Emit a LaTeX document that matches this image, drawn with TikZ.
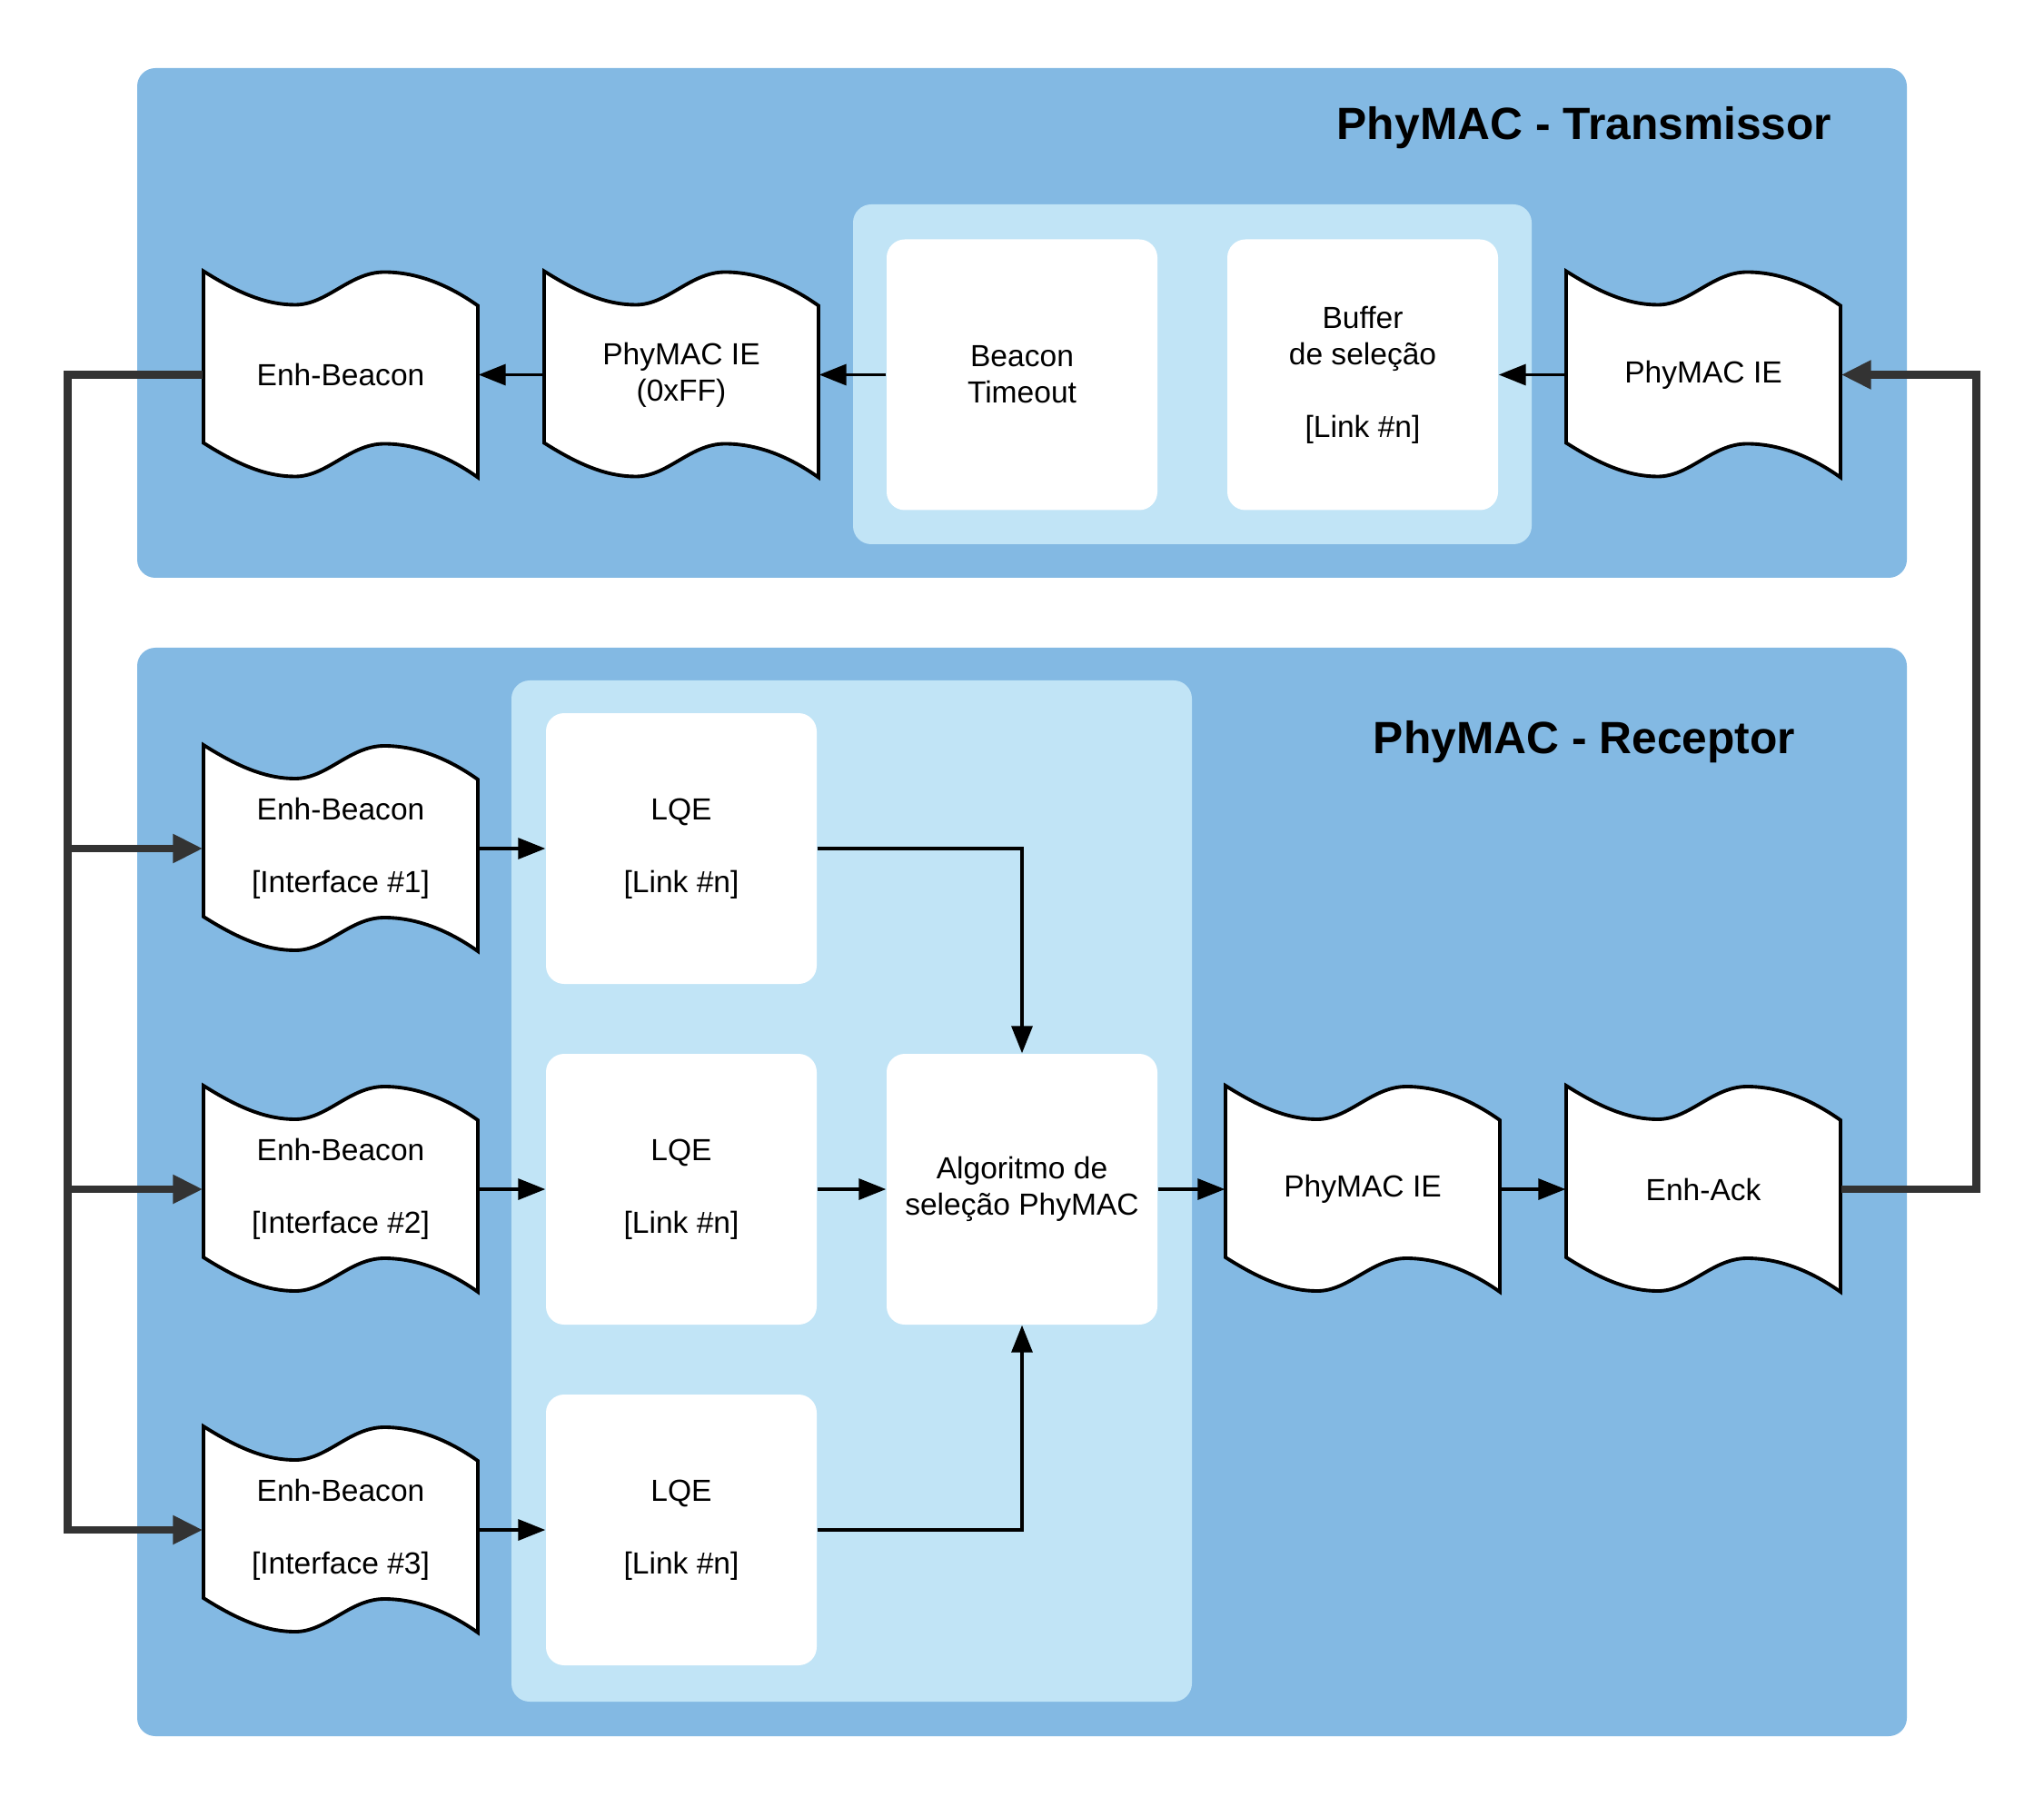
\documentclass[tikz,border=0pt]{standalone}
\usepackage{fontspec}
\setmainfont{Liberation Sans}
\usetikzlibrary{arrows.meta}

\definecolor{darkblue}{HTML}{83B9E3}
\definecolor{lightblue}{HTML}{C1E4F6}
\definecolor{busgray}{HTML}{333333}

\newcommand{\tapenode}[3]{%
  \pic at #2 {tapeshape};
  \node[tapebox] (#1) at #2 {#3};}

\begin{document}
\begin{tikzpicture}[
  font=\fontsize{9.55}{11.4}\selectfont,
  panel/.style={fill=darkblue, rounded corners=0.2cm},
  group/.style={fill=lightblue, rounded corners=0.2cm},
  block/.style={fill=white, rounded corners=0.2cm, minimum width=2.98cm, minimum height=2.98cm, inner sep=0pt, align=center},
  tapebox/.style={minimum width=3.02cm, minimum height=2.27cm, inner sep=0pt, align=center},
  tapeshape/.pic={
    \filldraw[fill=white, draw=black, line width=1.1pt, line join=miter]
      (-1.51,1.14) .. controls (-1.10,0.88) and (-0.80,0.77) .. (-0.50,0.77)
      .. controls (-0.15,0.77) and (0.10,1.13) .. (0.48,1.13)
      .. controls (0.85,1.13) and (1.20,0.98) .. (1.51,0.76)
      -- (1.51,-1.13)
      .. controls (1.20,-0.91) and (0.85,-0.76) .. (0.48,-0.76)
      .. controls (0.10,-0.76) and (-0.15,-1.12) .. (-0.50,-1.12)
      .. controls (-0.80,-1.12) and (-1.10,-1.01) .. (-1.51,-0.75) -- cycle;},
  flow/.style={line width=0.95pt, -{Triangle[length=3mm,width=2.3mm]}},
  bus/.style={draw=busgray, line width=2.5pt, -{Triangle[length=3.3mm,width=3mm]}},
  title/.style={font=\bfseries\fontsize{14.15}{16}\selectfont, anchor=base}
]
\useasboundingbox (0,0) rectangle (22.5,19.88);

% transmissor
\fill[panel] (1.51,19.13) rectangle (20.99,13.52);
\fill[group] (9.39,17.63) rectangle (16.86,13.89);
\node[title] (txtitle) at (17.44,18.34) {PhyMAC - Transmissor};

\tapenode{txbeacon}{(3.75,15.755)}{Enh-Beacon}
\tapenode{txie}{(7.5,15.755)}{PhyMAC IE\\(0xFF)}
\node[block] (timeout) at (11.25,15.755) {Beacon\\Timeout};
\node[block] (buffer) at (15,15.755) {Buffer\\de seleção\\[11.4pt]{[Link \#n]}};
\tapenode{txin}{(18.75,15.755)}{PhyMAC IE}

\draw[flow] (txie.west) -- (txbeacon.east);
\draw[flow] (timeout.west) -- (txie.east);
\draw[flow] (txin.west) -- (buffer.east);

% receptor
\fill[panel] (1.51,12.75) rectangle (20.99,0.77);
\fill[group] (5.63,12.39) rectangle (13.12,1.15);
\node[title] (rxtitle) at (17.44,11.59) {PhyMAC - Receptor};

\tapenode{rxb1}{(3.75,10.54)}{Enh-Beacon\\[11.4pt]{[Interface \#1]}}
\tapenode{rxb2}{(3.75,6.79)}{Enh-Beacon\\[11.4pt]{[Interface \#2]}}
\tapenode{rxb3}{(3.75,3.04)}{Enh-Beacon\\[11.4pt]{[Interface \#3]}}

\node[block] (lqe1) at (7.5,10.54) {LQE\\[11.4pt]{[Link \#n]}};
\node[block] (lqe2) at (7.5,6.79) {LQE\\[11.4pt]{[Link \#n]}};
\node[block] (lqe3) at (7.5,3.04) {LQE\\[11.4pt]{[Link \#n]}};
\node[block] (algo) at (11.25,6.79) {Algoritmo de\\seleção PhyMAC};

\tapenode{rxie}{(15,6.79)}{PhyMAC IE}
\tapenode{rxack}{(18.75,6.79)}{Enh-Ack}

\draw[flow] (rxb1.east) -- (lqe1.west);
\draw[flow] (rxb2.east) -- (lqe2.west);
\draw[flow] (rxb3.east) -- (lqe3.west);
\draw[flow] (lqe1.east) -| (algo.north);
\draw[flow] (lqe2.east) -- (algo.west);
\draw[flow] (lqe3.east) -| (algo.south);
\draw[flow] (algo.east) -- (rxie.west);
\draw[flow] (rxie.east) -- (rxack.west);

% links between the two
\draw[bus] (txbeacon.west) -- ++(-1.485,0) |- (rxb1.west);
\draw[bus] (txbeacon.west) -- ++(-1.485,0) |- (rxb2.west);
\draw[bus] (txbeacon.west) -- ++(-1.485,0) |- (rxb3.west);
\draw[bus] (rxack.east) -- ++(1.49,0) |- (txin.east);
\end{tikzpicture}
\end{document}
